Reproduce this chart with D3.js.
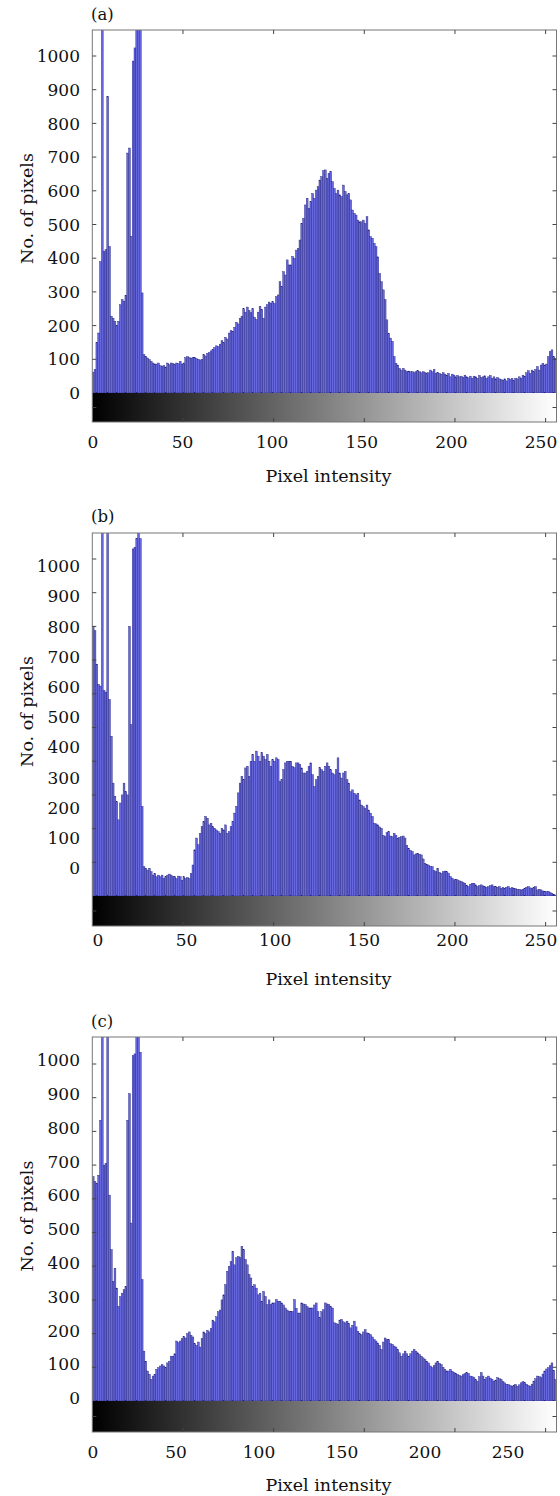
<!DOCTYPE html>
<html>
<head>
<meta charset="utf-8">
<script src="https://cdn.jsdelivr.net/npm/d3@7"></script>
<style>
  body { margin: 0; background: #fff; }
  text { font-family: "DejaVu Serif", serif; fill: #111; }
</style>
</head>
<body>
<svg id="chart"></svg>
<script>
// tick labels
const xTickLabels = [0, 50, 100, 150, 200, 250];
const yTickLabels = [0, 100, 200, 300, 400, 500, 600, 700, 800, 900, 1000];

// histogram counts, one value per intensity bin (0..255)
const countsA = [
  62,70,150,178,390,1400,420,425,880,435,228,222,213,200,213,262,
  277,272,290,712,727,465,985,1024,1200,1150,1090,297,114,109,104,99,
  94,89,86,86,89,81,79,81,77,89,84,89,87,84,89,87,
  94,86,89,105,108,105,103,106,105,102,100,98,100,114,110,118,
  120,125,130,135,140,138,145,155,150,165,160,178,185,182,195,210,
  205,222,228,250,240,255,245,238,250,225,218,240,257,248,222,255,
  262,270,266,271,266,286,291,330,316,360,350,395,380,380,405,400,
  424,429,454,503,518,558,578,548,568,592,578,602,612,632,642,660,
  662,637,652,657,627,607,592,602,588,583,617,598,588,592,573,543,
  533,528,513,508,508,513,503,523,484,464,459,444,434,404,355,330,
  306,277,217,177,163,153,108,88,83,73,68,73,68,63,65,63,
  63,60,63,66,63,60,63,60,58,60,68,63,70,58,60,58,
  56,60,56,53,58,48,56,53,48,52,48,50,46,53,48,45,
  50,44,50,48,44,52,46,48,51,44,48,52,43,48,42,46,
  42,40,38,42,36,44,40,43,38,44,42,48,44,53,50,60,
  66,58,68,63,70,78,68,83,88,83,86,108,123,128,108,103
];

const countsB = [
  800,787,688,628,623,1300,610,605,1200,583,474,335,296,280,226,276,
  300,335,310,300,800,509,1030,1035,1060,1150,1060,266,87,82,77,82,
  72,62,67,57,62,57,62,52,57,62,65,62,57,57,52,59,
  57,47,57,52,55,52,67,92,137,172,152,186,206,221,236,231,
  211,216,206,201,196,191,186,201,196,211,186,191,206,221,246,266,
  306,335,355,345,380,385,355,400,420,400,430,415,400,425,415,405,
  420,400,385,405,400,410,405,340,345,375,395,400,400,400,385,381,
  395,395,390,380,365,365,370,385,395,360,325,345,355,381,375,370,
  385,395,385,375,365,360,375,410,365,350,365,370,345,335,310,315,
  305,300,305,285,270,265,260,270,255,246,236,216,214,211,205,201,
  180,176,188,191,178,176,186,180,171,174,176,178,172,150,142,135,
  132,122,125,127,124,122,110,97,94,92,88,87,75,72,82,70,
  67,72,74,72,68,58,53,48,50,48,45,43,40,38,32,28,
  35,38,38,33,28,31,33,30,28,26,28,31,33,28,28,26,
  28,23,25,23,26,28,23,25,23,22,20,20,18,20,23,26,
  28,24,23,26,28,18,20,18,15,13,13,14,10,8,5,3
];

const countsC = [
  666,651,646,670,833,1300,700,705,1250,611,449,355,394,335,281,310,
  320,330,340,833,912,528,1025,1030,1200,1150,1035,360,148,118,89,79,
  64,74,79,94,99,104,108,104,99,113,118,133,133,140,178,173,
  178,185,192,187,200,205,195,190,170,165,175,160,185,205,200,210,
  205,215,240,235,250,265,270,300,315,345,385,400,414,444,404,425,
  429,425,459,449,420,404,375,365,340,345,335,315,320,296,325,310,
  286,300,286,291,291,301,296,296,291,285,276,270,266,266,266,301,
  275,261,261,291,288,286,280,276,276,276,285,291,265,247,265,271,
  291,288,286,280,276,232,230,227,240,242,235,232,237,230,217,225,
  237,220,207,200,197,205,212,202,200,197,190,182,178,172,165,153,
  175,187,182,182,170,168,163,160,153,143,133,140,148,140,133,140,
  148,153,148,143,138,133,128,123,118,113,104,99,105,113,118,112,
  108,100,94,89,89,94,88,84,82,79,76,74,78,81,84,82,
  74,72,69,64,59,72,84,74,64,70,74,68,64,59,62,69,
  66,64,58,54,50,49,46,44,47,49,44,48,54,57,55,50,
  46,44,50,59,66,74,72,69,80,89,95,99,105,113,90,64
];

const width = 560, height = 1496;
const plotLeft = 92.3, plotRight = 556.5;
const pxPer100 = 33.7;

// layout of each panel (pixel positions only)
const panels = [
  { name: "(a)", counts: countsA, top: 30, zero: 393, bottom: 422,
    yLab: [393, 56], xLab: [93, 541], xLabelY: 448, titleY: 482, nameY: 20 },
  { name: "(b)", counts: countsB, top: 533, zero: 896, bottom: 926,
    yLab: [868, 566], xLab: [98, 541], xLabelY: 946, titleY: 985, nameY: 522 },
  { name: "(c)", counts: countsC, top: 1037, zero: 1401, bottom: 1432,
    yLab: [1398, 1060], xLab: [93, 508], xLabelY: 1458, titleY: 1491, nameY: 1027 }
];

const svg = d3.select("#chart")
    .attr("width", width)
    .attr("height", height)
    .style("background", "#fff");

const defs = svg.append("defs");
const grad = defs.append("linearGradient")
    .attr("id", "gray")
    .attr("x1", "0%").attr("x2", "100%")
    .attr("y1", "0%").attr("y2", "0%");
grad.append("stop").attr("offset", "0%").attr("stop-color", "#000");
grad.append("stop").attr("offset", "100%").attr("stop-color", "#fff");

const x = d3.scaleLinear().domain([0, 256]).range([plotLeft, plotRight]);

panels.forEach((p, pi) => {
    const g = svg.append("g");

    const y = d3.scaleLinear()
        .domain([0, 100])
        .range([p.zero, p.zero - pxPer100]);

    // clip for bars
    defs.append("clipPath").attr("id", "clip" + pi)
        .append("rect")
        .attr("x", plotLeft).attr("y", p.top)
        .attr("width", plotRight - plotLeft).attr("height", p.zero - p.top);

    // Draw bars
    g.append("g")
        .attr("clip-path", `url(#clip${pi})`)
        .selectAll("rect")
        .data(p.counts)
        .join("rect")
        .attr("x", (d, i) => x(i))
        .attr("width", (d, i) => x(i + 1) - x(i))
        .attr("y", d => y(d))
        .attr("height", d => p.zero - y(d))
        .style("fill", "#6868de")
        .style("stroke", "#1f1f7a")
        .style("stroke-width", 0.4);

    // colour bar
    g.append("rect")
        .attr("x", plotLeft).attr("y", p.zero)
        .attr("width", plotRight - plotLeft).attr("height", p.bottom - p.zero)
        .style("fill", "url(#gray)");

    // frame
    g.append("rect")
        .attr("x", plotLeft).attr("y", p.top)
        .attr("width", plotRight - plotLeft).attr("height", p.bottom - p.top)
        .style("fill", "none")
        .style("stroke", "#777")
        .style("stroke-width", 1);

    // inward ticks
    const tickLen = 4;
    xTickLabels.forEach(v => {
        if (v === 0) return;
        g.append("line")
            .attr("x1", x(v)).attr("x2", x(v))
            .attr("y1", p.top).attr("y2", p.top + tickLen)
            .style("stroke", "#444");
        g.append("line")
            .attr("x1", x(v)).attr("x2", x(v))
            .attr("y1", p.bottom).attr("y2", p.bottom - tickLen)
            .style("stroke", "#444");
    });
    const yFrameTicks = yTickLabels.filter(v => v > 0 && y(v) > p.top + 2).map(v => y(v));
    yFrameTicks.push((p.zero + p.bottom) / 2);
    yFrameTicks.forEach(ty => {
        g.append("line")
            .attr("x1", plotLeft).attr("x2", plotLeft + tickLen)
            .attr("y1", ty).attr("y2", ty)
            .style("stroke", "#444");
        g.append("line")
            .attr("x1", plotRight).attr("x2", plotRight - tickLen)
            .attr("y1", ty).attr("y2", ty)
            .style("stroke", "#444");
    });

    // y tick labels
    const yLabel = d3.scaleLinear().domain([0, 1000]).range(p.yLab);
    g.selectAll(".ylab")
        .data(yTickLabels)
        .join("text")
        .attr("x", 80)
        .attr("y", d => yLabel(d))
        .attr("dy", "0.36em")
        .style("text-anchor", "end")
        .style("font-size", "17px")
        .text(d => d);

    // x tick labels
    const xLabel = d3.scaleLinear().domain([0, 250]).range(p.xLab);
    g.selectAll(".xlab")
        .data(xTickLabels)
        .join("text")
        .attr("x", d => xLabel(d))
        .attr("y", p.xLabelY)
        .style("text-anchor", "middle")
        .style("font-size", "17px")
        .text(d => d);

    // axis titles
    g.append("text")
        .attr("x", (plotLeft + plotRight) / 2 + 4)
        .attr("y", p.titleY)
        .style("text-anchor", "middle")
        .style("font-size", "17.5px")
        .text("Pixel intensity");

    g.append("text")
        .attr("transform", `translate(33, ${(p.top + p.zero) / 2 - 3}) rotate(-90)`)
        .style("text-anchor", "middle")
        .style("font-size", "17.5px")
        .text("No. of pixels");

    g.append("text")
        .attr("x", 91)
        .attr("y", p.nameY)
        .style("font-size", "16.5px")
        .text(p.name);
});
</script>
</body>
</html>
